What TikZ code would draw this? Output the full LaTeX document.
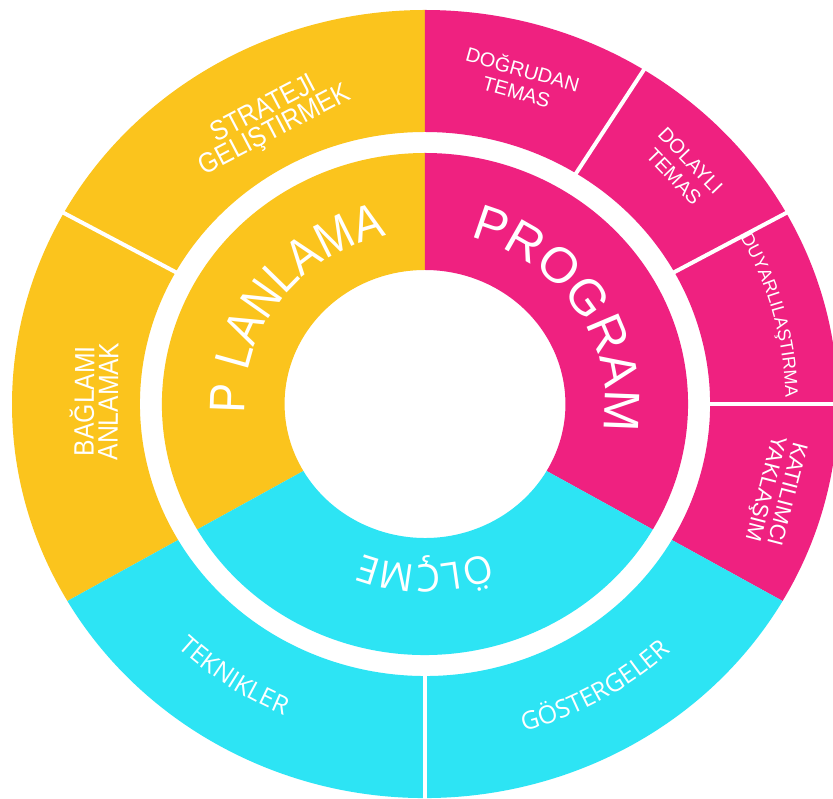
\documentclass[tikz,border=0pt]{standalone}
\usepackage{fontspec}
\setmainfont{Liberation Sans}
\newfontfamily\opensans{Open Sans}
\newfontfamily\narrowsans[FakeStretch=0.88]{Liberation Sans}
\usetikzlibrary{decorations.text}

\definecolor{planyellow}{HTML}{FBC41D}
\definecolor{progpink}{HTML}{EF2180}
\definecolor{olcmecyan}{HTML}{2DE4F4}

\newcommand{\progfont}{\fontsize{50}{50}\selectfont}
\newcommand{\planfont}{\narrowsans\fontsize{50}{50}\selectfont}
\newcommand{\olcmefont}{\opensans\fontsize{38}{38}\selectfont}
\newcommand{\cyanfont}{\opensans\fontsize{25}{25}\selectfont}
\newcommand{\duyfont}{\fontsize{18}{18}\selectfont}

\begin{document}
\begin{tikzpicture}[x=1.048pt, y=1pt,
    divider/.style={white, line width=4pt},
    outerlabel/.style={text=white, align=center, inner sep=0pt, font=\narrowsans\fontsize{28}{24}\selectfont},
    pinklabel/.style={text=white, align=center, inner sep=0pt, font=\fontsize{20}{23}\selectfont},
    arctext/.style={decorate, decoration={text along path, text align=center, text color=white, text={#1}}}]

    % Page and margins
    \fill[white] (-425pt,-395pt) rectangle (408pt,404pt);
    \useasboundingbox (-425pt,-395pt) rectangle (408pt,404pt);

    % Inner ring: planlama, program, olcme
    \fill[planyellow] (90:134) arc[start angle=90, end angle=210, radius=134]
        -- (210:251) arc[start angle=210, end angle=90, radius=251] -- cycle;
    \fill[progpink] (-30:134) arc[start angle=-30, end angle=90, radius=134]
        -- (90:251) arc[start angle=90, end angle=-30, radius=251] -- cycle;
    \fill[olcmecyan] (210:134) arc[start angle=210, end angle=330, radius=134]
        -- (330:251) arc[start angle=330, end angle=210, radius=251] -- cycle;

    % Outer ring, same three colours
    \fill[planyellow] (90:272) arc[start angle=90, end angle=210, radius=272]
        -- (210:394) arc[start angle=210, end angle=90, radius=394] -- cycle;
    \fill[progpink] (-30:272) arc[start angle=-30, end angle=90, radius=272]
        -- (90:394) arc[start angle=90, end angle=-30, radius=394] -- cycle;
    \fill[olcmecyan] (210:272) arc[start angle=210, end angle=330, radius=272]
        -- (330:394) arc[start angle=330, end angle=210, radius=394] -- cycle;

    % White lines between the outer parts
    \draw[divider] (151:270) -- (151:396);
    \draw[divider] (58:270) -- (58:396);
    \draw[divider] (29:270) -- (29:396);
    \draw[divider] (0:270) -- (0:396);
    \draw[divider] (270:270) -- (270:396);

    % Big curved words of the inner ring
    \path[arctext={|\progfont|PROGRAM}] (88:172) arc[start angle=88, end angle=-22, radius=172];
    \path[arctext={|\planfont|P LANLAMA}] (198:172) arc[start angle=198, end angle=88, radius=172];
    \path[arctext={|\olcmefont|ÖLÇME}] (300:161) arc[start angle=300, end angle=240, radius=161];

    % Curved words of the outer ring
    \path[arctext={|\duyfont|DUYARLILAŞTIRMA}] (35:344) arc[start angle=35, end angle=-5, radius=344];
    \path[arctext={|\cyanfont|TEKNIKLER}] (206:339) arc[start angle=206, end angle=266, radius=339];
    \path[arctext={|\cyanfont|GÖSTERGELER}] (270:341) arc[start angle=270, end angle=330, radius=341];

    % Two-line labels of the outer ring
    \node[outerlabel, rotate=27.6] (strateji) at (117.6:320) {STRATEJI\\GELIŞTIRMEK};
    \node[outerlabel, rotate=89.5] (baglami) at (179.5:316) {BAĞLAMI\\ANLAMAK};
    \node[pinklabel, rotate=-15.6] (dogrudan) at (74.4:337) {DOĞRUDAN\\TEMAS};
    \node[pinklabel, rotate=-46.2] (dolayli) at (43.8:340) {DOLAYLI\\TEMAS};
    \node[pinklabel, font=\fontsize{22}{22}\selectfont, rotate=-104.6] (katilimci) at (-14.6:345) {KATILIMCI\\YAKLAŞIM};

\end{tikzpicture}
\end{document}
